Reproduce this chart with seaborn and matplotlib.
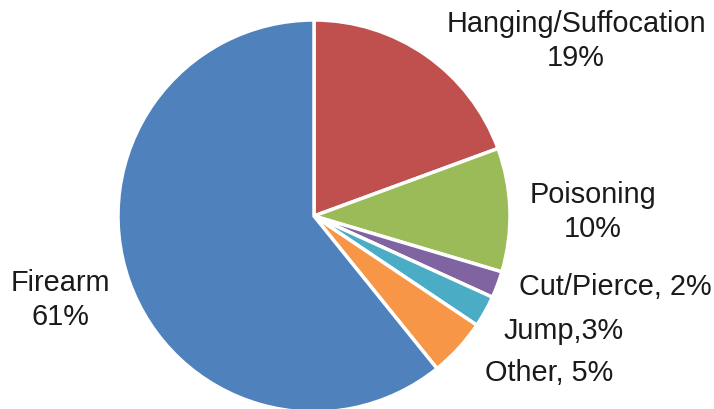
import matplotlib
matplotlib.use("Agg")
import matplotlib.pyplot as plt
import seaborn as sns

# Data
categories = ["Hanging/Suffocation", "Poisoning", "Cut/Pierce", "Jump", "Other", "Firearm"]
shares = [19.4, 10.2, 2.2, 2.6, 4.8, 60.8]
label_texts = ["Hanging/Suffocation\n19%", "Poisoning\n10%", "Cut/Pierce, 2%",
               "Jump,3%", "Other, 5%", "Firearm\n61%"]
colors = ["#C0504D", "#9BBB59", "#8064A2", "#4BACC6", "#F79646", "#4F81BD"]

sns.set_style("white")
plt.rcParams['font.family'] = ['Liberation Sans', 'DejaVu Sans']

W, H = 714, 410
fig = plt.figure(figsize=(W / 100, H / 100), dpi=100)
ax = fig.add_axes([0, 0, 1, 1])

cx, cy, r = 314, H - 217, 196
ax.pie(shares, colors=sns.color_palette(colors), startangle=90, counterclock=False,
       center=(cx, cy), radius=r, frame=True,
       wedgeprops=dict(edgecolor='white', linewidth=2.5))
ax.set_xlim(0, W)
ax.set_ylim(0, H)
ax.set_aspect('equal')
ax.axis('off')

# label anchor positions in pixel coordinates (x, y from top)
label_pos = [(576, 41), (593, 212), (615, 287), (564, 331), (549, 373), (60, 300)]
for txt, (x, y) in zip(label_texts, label_pos):
    ax.text(x, H - y, txt, ha='center', va='center', fontsize=20.8, color='#1a1a1a',
            linespacing=1.3)

fig.savefig("out.png", dpi=100)
